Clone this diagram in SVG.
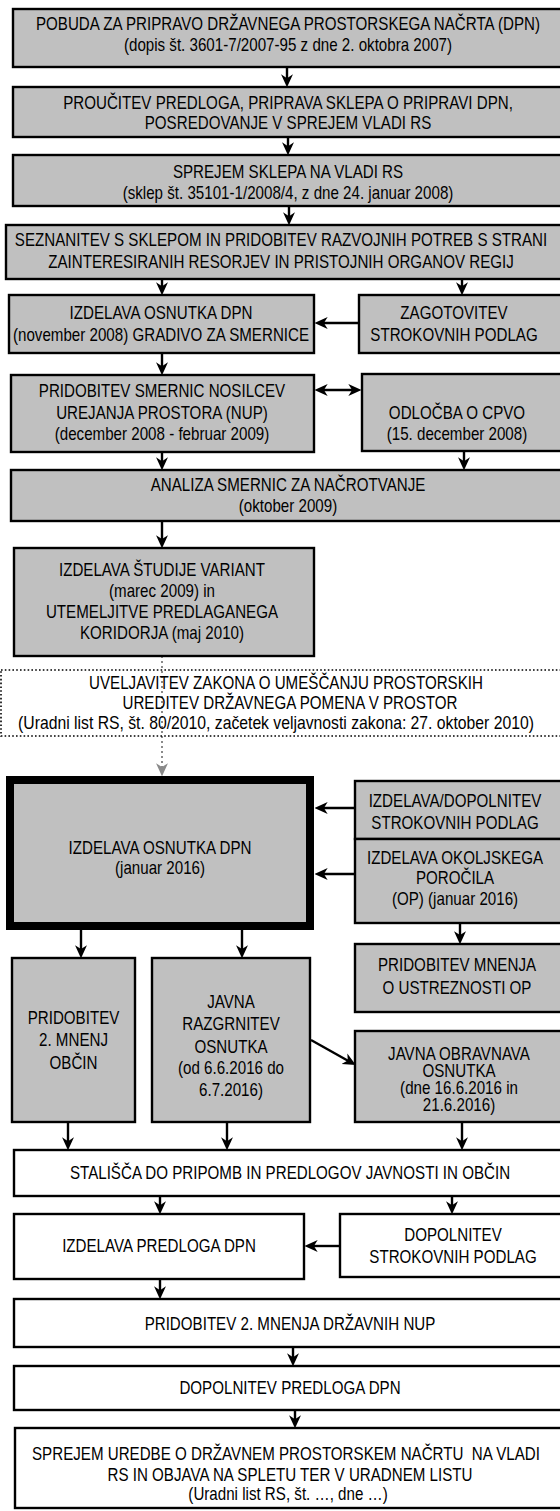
<svg xmlns="http://www.w3.org/2000/svg" width="560" height="1511" viewBox="0 0 560 1511">
<style>
text{font-family:"Liberation Sans",Arial,sans-serif;font-size:17.5px;fill:#000;text-anchor:middle}
.g{fill:#c0c0c0;stroke:#000;stroke-width:2.4}
.w{fill:#fff;stroke:#000;stroke-width:2.4}
.thick{fill:#c0c0c0;stroke:#000;stroke-width:8}
.dot{fill:none;stroke:#000;stroke-width:1.6;stroke-dasharray:1.6 2.2}
.c{fill:none;stroke:#000;stroke-width:2.4;marker-end:url(#ah)}
.cd{fill:none;stroke:#000;stroke-width:2.4;marker-end:url(#ah);marker-start:url(#ah)}
.cg{fill:none;stroke:#8a8a8a;stroke-width:2;stroke-dasharray:2 3;marker-end:url(#ahg)}
</style>
<defs>
<marker id="ah" viewBox="0 0 12 12" refX="8" refY="6" markerWidth="13" markerHeight="13" markerUnits="userSpaceOnUse" orient="auto-start-reverse"><path d="M0,0.5 L12,6 L0,11.5 L3.5,6 z" fill="#000"/></marker>
<marker id="ahg" viewBox="0 0 12 12" refX="8" refY="6" markerWidth="13" markerHeight="13" markerUnits="userSpaceOnUse" orient="auto"><path d="M0,0.5 L12,6 L0,11.5 L3.5,6 z" fill="#8a8a8a"/></marker>
</defs>

<g id="connectors">
<line class="c" x1="287" y1="67" x2="287" y2="83"/>
<line class="c" x1="288" y1="137" x2="288" y2="151"/>
<line class="c" x1="289" y1="206" x2="289" y2="221"/>
<line class="c" x1="162" y1="279" x2="162" y2="291"/>
<line class="c" x1="462" y1="279" x2="462" y2="291"/>
<line class="c" x1="359" y1="323" x2="319" y2="323"/>
<line class="c" x1="162" y1="353" x2="162" y2="371"/>
<line class="cd" x1="319" y1="390" x2="357" y2="390"/>
<line class="c" x1="162" y1="452" x2="162" y2="466"/>
<line class="c" x1="464" y1="451" x2="464" y2="466"/>
<line class="c" x1="162" y1="521" x2="162" y2="544"/>
<line class="cg" x1="162" y1="656" x2="162" y2="772"/>
<line class="c" x1="355" y1="808" x2="319" y2="808"/>
<line class="c" x1="355" y1="874" x2="319" y2="874"/>
<line class="c" x1="460" y1="923" x2="460" y2="940"/>
<line class="c" x1="81" y1="926" x2="81" y2="954"/>
<line class="c" x1="242" y1="926" x2="242" y2="954"/>
<line class="c" x1="311" y1="1040" x2="352" y2="1063"/>
<line class="c" x1="68" y1="1122" x2="68" y2="1146"/>
<line class="c" x1="227" y1="1122" x2="227" y2="1146"/>
<line class="c" x1="462" y1="1122" x2="462" y2="1146"/>
<line class="c" x1="160" y1="1196" x2="160" y2="1210"/>
<line class="c" x1="452" y1="1196" x2="452" y2="1210"/>
<line class="c" x1="340" y1="1246" x2="309" y2="1246"/>
<line class="c" x1="160" y1="1279" x2="160" y2="1295"/>
<line class="c" x1="293" y1="1347" x2="293" y2="1362"/>
<line class="c" x1="295" y1="1410" x2="295" y2="1424"/>
</g>

<g id="n1"><rect class="g" x="13" y="9" width="551" height="58"/>
<text transform="translate(288 30) scale(0.865 1)">POBUDA ZA PRIPRAVO DRŽAVNEGA PROSTORSKEGA NAČRTA (DPN)</text>
<text transform="translate(288 51) scale(0.865 1)">(dopis št. 3601-7/2007-95 z dne 2. oktobra 2007)</text></g>

<g id="n2"><rect class="g" x="13" y="87" width="551" height="50"/>
<text transform="translate(288 109) scale(0.865 1)">PROUČITEV PREDLOGA, PRIPRAVA SKLEPA O PRIPRAVI DPN,</text>
<text transform="translate(288 129) scale(0.865 1)">POSREDOVANJE V SPREJEM VLADI RS</text></g>

<g id="n3"><rect class="g" x="13" y="155" width="551" height="51"/>
<text transform="translate(288 178) scale(0.865 1)">SPREJEM SKLEPA NA VLADI RS</text>
<text transform="translate(288 199) scale(0.865 1)">(sklep št. 35101-1/2008/4, z dne 24. januar 2008)</text></g>

<g id="n4"><rect class="g" x="6" y="225" width="558" height="54"/>
<text transform="translate(281 246) scale(0.865 1)">SEZNANITEV S SKLEPOM IN PRIDOBITEV RAZVOJNIH POTREB S STRANI</text>
<text transform="translate(281 268) scale(0.865 1)">ZAINTERESIRANIH RESORJEV IN PRISTOJNIH ORGANOV REGIJ</text></g>

<g id="n5"><rect class="g" x="9" y="295" width="305" height="58"/>
<text transform="translate(161 319) scale(0.865 1)">IZDELAVA OSNUTKA DPN</text>
<text transform="translate(161 341) scale(0.865 1)">(november 2008) GRADIVO ZA SMERNICE</text></g>

<g id="n6"><rect class="g" x="359" y="295" width="205" height="58"/>
<text transform="translate(454 319) scale(0.865 1)">ZAGOTOVITEV</text>
<text transform="translate(454 341) scale(0.865 1)">STROKOVNIH PODLAG</text></g>

<g id="n7"><rect class="g" x="11" y="375" width="303" height="77"/>
<text transform="translate(162 397) scale(0.865 1)">PRIDOBITEV SMERNIC NOSILCEV</text>
<text transform="translate(162 419) scale(0.865 1)">UREJANJA PROSTORA (NUP)</text>
<text transform="translate(162 440) scale(0.865 1)">(december 2008 - februar 2009)</text></g>

<g id="n8"><rect class="g" x="362" y="374" width="202" height="77"/>
<text transform="translate(457 419) scale(0.865 1)">ODLOČBA O CPVO</text>
<text transform="translate(457 440) scale(0.865 1)">(15. december 2008)</text></g>

<g id="n9"><rect class="g" x="11" y="470" width="553" height="51"/>
<text transform="translate(288 491) scale(0.865 1)">ANALIZA SMERNIC ZA NAČROTVANJE</text>
<text transform="translate(288 512) scale(0.865 1)">(oktober 2009)</text></g>

<g id="n10"><rect class="g" x="14" y="548" width="300" height="108"/>
<text transform="translate(162 576) scale(0.865 1)">IZDELAVA ŠTUDIJE VARIANT</text>
<text transform="translate(162 597) scale(0.865 1)">(marec 2009) in</text>
<text transform="translate(162 618) scale(0.865 1)">UTEMELJITVE PREDLAGANEGA</text>
<text transform="translate(162 639) scale(0.865 1)">KORIDORJA (maj 2010)</text></g>

<g id="n11"><rect class="dot" x="1" y="670" width="570" height="66"/>
<text transform="translate(286 689) scale(0.865 1)">UVELJAVITEV ZAKONA O UMEŠČANJU PROSTORSKIH</text>
<text transform="translate(290 709) scale(0.865 1)">UREDITEV DRŽAVNEGA POMENA V PROSTOR</text>
<text transform="translate(276 729) scale(0.9 1)">(Uradni list RS, št. 80/2010, začetek veljavnosti zakona: 27. oktober 2010)</text></g>

<g id="n12"><rect class="thick" x="10" y="780" width="300" height="146"/>
<text transform="translate(160 854) scale(0.865 1)">IZDELAVA OSNUTKA DPN</text>
<text transform="translate(160 874) scale(0.865 1)">(januar 2016)</text></g>

<g id="n13"><rect class="g" x="355" y="781" width="209" height="58"/>
<text transform="translate(455 807) scale(0.865 1)">IZDELAVA/DOPOLNITEV</text>
<text transform="translate(455 829) scale(0.865 1)">STROKOVNIH PODLAG</text></g>

<g id="n14"><rect class="g" x="355" y="839" width="209" height="84"/>
<text transform="translate(455 864) scale(0.865 1)">IZDELAVA OKOLJSKEGA</text>
<text transform="translate(455 884) scale(0.865 1)">POROČILA</text>
<text transform="translate(455 905) scale(0.865 1)">(OP) (januar 2016)</text></g>

<g id="n15"><rect class="g" x="355" y="944" width="209" height="68"/>
<text transform="translate(457 971) scale(0.865 1)">PRIDOBITEV MNENJA</text>
<text transform="translate(457 994) scale(0.865 1)">O USTREZNOSTI OP</text></g>

<g id="n16"><rect class="g" x="12" y="958" width="123" height="164"/>
<text transform="translate(73.5 1024) scale(0.865 1)">PRIDOBITEV</text>
<text transform="translate(73.5 1046) scale(0.865 1)">2. MNENJ</text>
<text transform="translate(73.5 1069) scale(0.865 1)">OBČIN</text></g>

<g id="n17"><rect class="g" x="152" y="958" width="158" height="164"/>
<text transform="translate(231 1008) scale(0.865 1)">JAVNA</text>
<text transform="translate(231 1030) scale(0.865 1)">RAZGRNITEV</text>
<text transform="translate(231 1053) scale(0.865 1)">OSNUTKA</text>
<text transform="translate(231 1074) scale(0.865 1)">(od 6.6.2016 do</text>
<text transform="translate(231 1096) scale(0.865 1)">6.7.2016)</text></g>

<g id="n18"><rect class="g" x="355" y="1031" width="209" height="91"/>
<text transform="translate(459 1060) scale(0.865 1)">JAVNA OBRAVNAVA</text>
<text transform="translate(459 1077) scale(0.865 1)">OSNUTKA</text>
<text transform="translate(459 1094) scale(0.865 1)">(dne 16.6.2016 in</text>
<text transform="translate(459 1111) scale(0.865 1)">21.6.2016)</text></g>

<g id="n19"><rect class="w" x="14" y="1150" width="550" height="46"/>
<text transform="translate(290 1179) scale(0.865 1)">STALIŠČA DO PRIPOMB IN PREDLOGOV JAVNOSTI IN OBČIN</text></g>

<g id="n20"><rect class="w" x="14" y="1214" width="290" height="65"/>
<text transform="translate(159 1252) scale(0.865 1)">IZDELAVA PREDLOGA DPN</text></g>

<g id="n21"><rect class="w" x="340" y="1214" width="224" height="63"/>
<text transform="translate(453 1241) scale(0.865 1)">DOPOLNITEV</text>
<text transform="translate(453 1263) scale(0.865 1)">STROKOVNIH PODLAG</text></g>

<g id="n22"><rect class="w" x="14" y="1299" width="550" height="48"/>
<text transform="translate(290 1330) scale(0.865 1)">PRIDOBITEV 2. MNENJA DRŽAVNIH NUP</text></g>

<g id="n23"><rect class="w" x="14" y="1366" width="550" height="44"/>
<text transform="translate(290 1394) scale(0.865 1)">DOPOLNITEV PREDLOGA DPN</text></g>

<g id="n24"><rect class="w" x="15" y="1428" width="549" height="80"/>
<text transform="translate(286 1460) scale(0.865 1)" xml:space="preserve">SPREJEM UREDBE O DRŽAVNEM PROSTORSKEM NAČRTU  NA VLADI</text>
<text transform="translate(290 1481) scale(0.865 1)">RS IN OBJAVA NA SPLETU TER V URADNEM LISTU</text>
<text transform="translate(288 1500) scale(0.865 1)">(Uradni list RS, št. …, dne …)</text></g>
</svg>
